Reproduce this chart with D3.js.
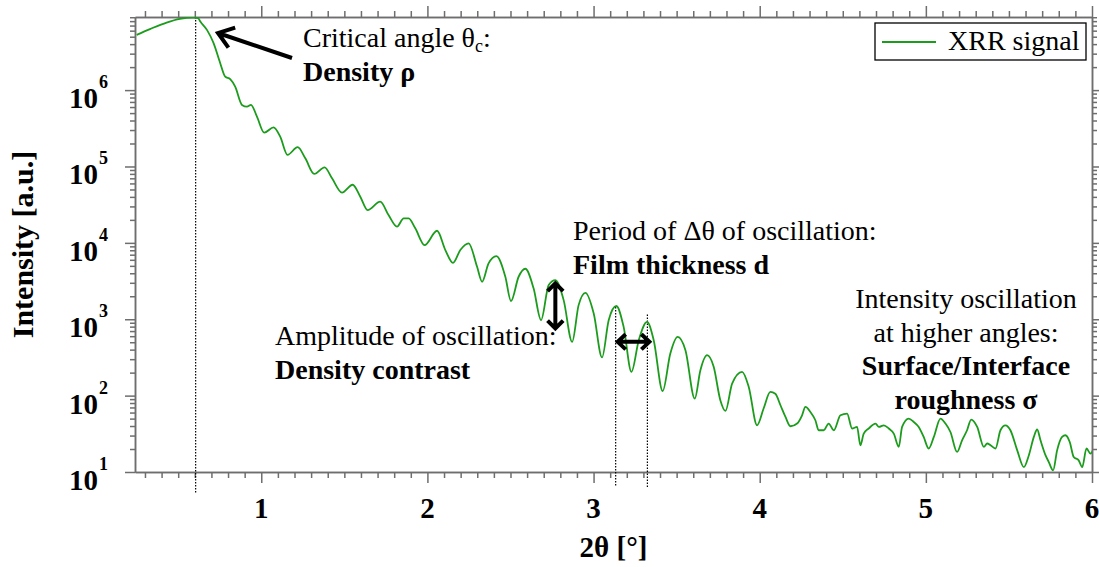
<!DOCTYPE html>
<html>
<head>
<meta charset="utf-8">
<script src="https://cdn.jsdelivr.net/npm/d3@7"></script>
<style>
  body { margin: 0; background: #fff; }
  svg { display: block; font-family: "Liberation Serif", "Times New Roman", serif; }
  .axis path, .axis line { stroke: #6e6e6e; stroke-width: 1.5; }
</style>
</head>
<body>
<svg id="chart" width="1099" height="567"></svg>
<script>
// XRR curve: 2theta [deg] and intensity [a.u.]
const twoTheta = [0.25,0.33,0.43,0.51,0.59,0.62,0.633,0.673,0.713,0.753,0.783,0.813,0.843,0.884,0.914,0.938,0.974,1.018,1.074,1.114,
  1.158,1.219,1.265,1.319,1.381,1.426,1.486,1.550,1.596,1.640,1.716,1.766,1.817,1.857,1.887,1.927,1.983,2.058,2.108,2.154,
  2.198,2.248,2.299,2.329,2.368,2.415,2.469,2.503,2.549,2.589,2.639,2.684,2.730,2.770,2.820,2.871,2.910,2.951,3.001,3.051,
  3.091,3.137,3.181,3.228,3.272,3.322,3.362,3.416,3.462,3.506,3.553,3.609,3.643,3.683,3.723,3.763,3.794,3.834,3.894,3.934,
  3.984,4.024,4.064,4.094,4.125,4.155,4.185,4.225,4.255,4.275,4.305,4.335,4.355,4.385,4.415,4.446,4.486,4.526,4.556,4.586,
  4.606,4.626,4.656,4.697,4.717,4.747,4.777,4.807,4.837,4.857,4.897,4.927,4.957,4.987,5.017,5.048,5.088,5.118,5.148,5.188,
  5.218,5.248,5.273,5.309,5.349,5.369,5.389,5.419,5.449,5.479,5.509,5.550,5.590,5.620,5.650,5.670,5.690,5.720,5.740,5.766,
  5.790,5.820,5.840,5.866,5.890,5.920,5.941,5.967,5.991,6.01];
const intensity = [5.29e6,6.29e6,7.67e6,8.57e6,8.91e6,8.75e6,7.9e6,6.15e6,4.12e6,2.25e6,1.50e6,1.39e6,1.11e6,6.40e5,6.08e5,6.40e5,4.50e5,2.77e5,3.26e5,2.46e5,
  1.42e5,1.79e5,1.28e5,7.98e4,9.75e4,7.00e4,4.54e4,5.77e4,4.02e4,2.69e4,3.46e4,2.31e4,1.63e4,2.09e4,2.09e4,1.55e4,9.35e3,1.44e4,8.05e3,5.48e3,
  8.05e3,9.84e3,4.86e3,3.09e3,5.38e3,6.71e3,3.60e3,1.73e3,3.60e3,4.58e3,2.54e3,973,2.80e3,3.25e3,1.78e3,506,1.53e3,2.22e3,1.19e3,316,
  973,1.49e3,795,205,532,924,532,115,356,588,394,91.6,215,338,238,87.1,63.0,144,205,130,
  40.9,68.4,112,106,74.8,52.6,39.7,43.1,55.3,71.1,61.1,47.6,35.2,35.2,43.1,35.2,55.3,58.2,37.1,38.9,
  22.4,31.8,37.1,43.1,38.9,40.9,37.1,31.8,21.3,38.9,50.1,45.2,38.9,28.8,20.3,28.8,50.1,43.1,33.4,18.3,
  26.0,35.2,48.6,38.9,21.3,23.6,22.4,20.3,35.2,40.9,35.2,19.2,11.6,16.6,28.8,36.0,26.0,16.6,13.5,10.5,
  19.2,28.8,30.3,24.7,15.7,14.2,11.6,20.3,17.4,20.3];

const xTicks = [1, 2, 3, 4, 5, 6];
const yDecades = [1, 2, 3, 4, 5, 6];
const seriesName = "XRR signal";

// annotation anchors (data units)
const criticalAngle = 0.605;
const periodMarks = [3.133, 3.324];
const amplitudeArrow = { x: 2.77, top: 2950, bottom: 760 };
const periodArrowLevel = 506;

const svg = d3.select('#chart');
const width = +svg.attr('width');
const height = +svg.attr('height');
const margin = { top: 17, right: 7, bottom: 95, left: 135 };
const plotRight = width - margin.right;
const plotBottom = height - margin.bottom;
const green = '#1c9c1c';

svg.append('rect').attr('width', width).attr('height', height).attr('fill', '#fff');

const x = d3.scaleLinear().domain([0.24, 6.0]).range([margin.left, plotRight]);
const y = d3.scaleLog().domain([10, 9.06e6]).range([plotBottom, margin.top]);

const minorX = d3.range(3, 60).map(d => d / 10).filter(d => d % 1 !== 0);
const minorY = [];
yDecades.forEach(p => {
    for (let m = 2; m <= 9; m++) {
        const v = m * Math.pow(10, p);
        if (v < y.domain()[1]) minorY.push(v);
    }
});

// axes (major + minor ticks on all four sides)
function addAxis(axisFn, scale, ticks, size, transform) {
    svg.append('g')
        .attr('class', 'axis')
        .attr('transform', transform)
        .call(axisFn(scale).tickValues(ticks).tickSize(size).tickSizeOuter(0).tickFormat(''));
}
addAxis(d3.axisBottom, x, xTicks, 11, `translate(0,${plotBottom})`);
addAxis(d3.axisBottom, x, minorX, 6, `translate(0,${plotBottom})`);
addAxis(d3.axisTop, x, xTicks, 11, `translate(0,${margin.top})`);
addAxis(d3.axisTop, x, minorX, 6, `translate(0,${margin.top})`);
addAxis(d3.axisLeft, y, yDecades.map(p => Math.pow(10, p)), 10, `translate(${margin.left},0)`);
addAxis(d3.axisLeft, y, minorY, 5, `translate(${margin.left},0)`);
addAxis(d3.axisRight, y, yDecades.map(p => Math.pow(10, p)), 8, `translate(${plotRight},0)`);
addAxis(d3.axisRight, y, minorY, 5, `translate(${plotRight},0)`);

// tick labels
svg.append('g').selectAll('text')
    .data(xTicks)
    .join('text')
    .attr('x', d => x(d))
    .attr('y', plotBottom + 46)
    .attr('text-anchor', 'middle')
    .attr('font-size', 29)
    .attr('font-weight', 'bold')
    .text(d => d);

const yLab = svg.append('g').selectAll('g')
    .data(yDecades)
    .join('g')
    .attr('transform', d => `translate(0,${y(Math.pow(10, d))})`);
yLab.append('text')
    .attr('x', 98).attr('y', 18)
    .attr('text-anchor', 'end')
    .attr('font-size', 29).attr('font-weight', 'bold')
    .text('10');
yLab.append('text')
    .attr('x', 99).attr('y', -2)
    .attr('font-size', 18).attr('font-weight', 'bold')
    .text(d => d);

// axis titles
svg.append('text')
    .attr('x', (margin.left + plotRight) / 2)
    .attr('y', 557)
    .attr('text-anchor', 'middle')
    .attr('font-size', 29).attr('font-weight', 'bold')
    .text('2θ [°]');
svg.append('text')
    .attr('transform', `translate(33,${(margin.top + plotBottom) / 2}) rotate(-90)`)
    .attr('text-anchor', 'middle')
    .attr('font-size', 30).attr('font-weight', 'bold')
    .text('Intensity [a.u.]');

// dotted guide lines
const dotted = svg.append('g')
    .attr('stroke', '#000').attr('stroke-width', 1.2).attr('stroke-dasharray', '1.5,1.5');
dotted.append('line')
    .attr('x1', x(criticalAngle)).attr('x2', x(criticalAngle))
    .attr('y1', margin.top).attr('y2', plotBottom + 21);
dotted.selectAll('.pm')
    .data(periodMarks)
    .join('line')
    .attr('x1', d => x(d)).attr('x2', d => x(d))
    .attr('y1', (d, i) => i === 0 ? y(1450) : y(1150))
    .attr('y2', plotBottom + 15);

// the XRR curve
svg.append('clipPath').attr('id', 'clip')
    .append('rect')
    .attr('x', margin.left).attr('y', margin.top)
    .attr('width', plotRight - margin.left).attr('height', plotBottom - margin.top);

const data = twoTheta.map((t, i) => ({ t: t, v: intensity[i] }));
const line = d3.line()
    .x(d => x(d.t))
    .y(d => y(d.v))
    .curve(d3.curveMonotoneX);
svg.append('path')
    .attr('clip-path', 'url(#clip)')
    .attr('d', line(data))
    .attr('fill', 'none')
    .attr('stroke', green)
    .attr('stroke-width', 1.8);

// arrows
function arrowHead(x0, y0, angle, len, spread) {
    const a1 = angle + Math.PI * spread, a2 = angle - Math.PI * spread;
    return `M${x0 + len * Math.cos(a1)},${y0 + len * Math.sin(a1)}L${x0},${y0}L${x0 + len * Math.cos(a2)},${y0 + len * Math.sin(a2)}`;
}
function drawArrow(x1, y1, x2, y2, both, len, spread) {
    const ang = Math.atan2(y2 - y1, x2 - x1);
    let d = `M${x1},${y1}L${x2},${y2}` + arrowHead(x2, y2, ang, len, spread);
    if (both) d += arrowHead(x1, y1, ang + Math.PI, len, spread);
    svg.append('path')
        .attr('d', d)
        .attr('fill', 'none')
        .attr('stroke', '#000')
        .attr('stroke-width', 4)
        .attr('stroke-linejoin', 'miter');
}
drawArrow(292, 58, 218, 33, false, 18, 0.8);
drawArrow(x(amplitudeArrow.x), y(amplitudeArrow.bottom), x(amplitudeArrow.x), y(amplitudeArrow.top), true, 11, 0.75);
drawArrow(x(periodMarks[0]) + 2, y(periodArrowLevel), x(periodMarks[1]) + 2, y(periodArrowLevel), true, 11, 0.76);

// annotation texts
function note(lines, xPos, yPos, anchor) {
    const t = svg.append('text').attr('text-anchor', anchor || 'start').attr('font-size', 28);
    lines.forEach((l, i) => {
        const ts = t.append('tspan')
            .attr('x', xPos)
            .attr('y', yPos + i * 33.5)
            .attr('font-weight', l.bold ? 'bold' : 'normal');
        ts.text(l.text);
        if (l.sub) {
            ts.append('tspan').attr('font-size', 18).attr('dy', 5).text(l.sub);
            ts.append('tspan').attr('dy', -5).text(l.after);
        }
    });
}
note([{ text: 'Critical angle θ', sub: 'c', after: ':' }, { text: 'Density ρ', bold: true }], 303, 47);
note([{ text: 'Period of Δθ of oscillation:' }, { text: 'Film thickness d', bold: true }], 573, 240);
note([{ text: 'Amplitude of oscillation:' }, { text: 'Density contrast', bold: true }], 275, 345);
note([{ text: 'Intensity oscillation' }, { text: 'at higher angles:' },
      { text: 'Surface/Interface', bold: true }, { text: 'roughness σ', bold: true }], 966, 308, 'middle');

// legend
const legend = svg.append('g');
legend.append('rect')
    .attr('x', 875).attr('y', 23).attr('width', 211).attr('height', 37)
    .attr('fill', '#fff').attr('stroke', '#000').attr('stroke-width', 1.3);
legend.append('line')
    .attr('x1', 882).attr('x2', 936).attr('y1', 42).attr('y2', 42)
    .attr('stroke', green).attr('stroke-width', 1.8);
legend.append('text')
    .attr('x', 948).attr('y', 50)
    .attr('font-size', 28)
    .text(seriesName);
</script>
</body>
</html>
